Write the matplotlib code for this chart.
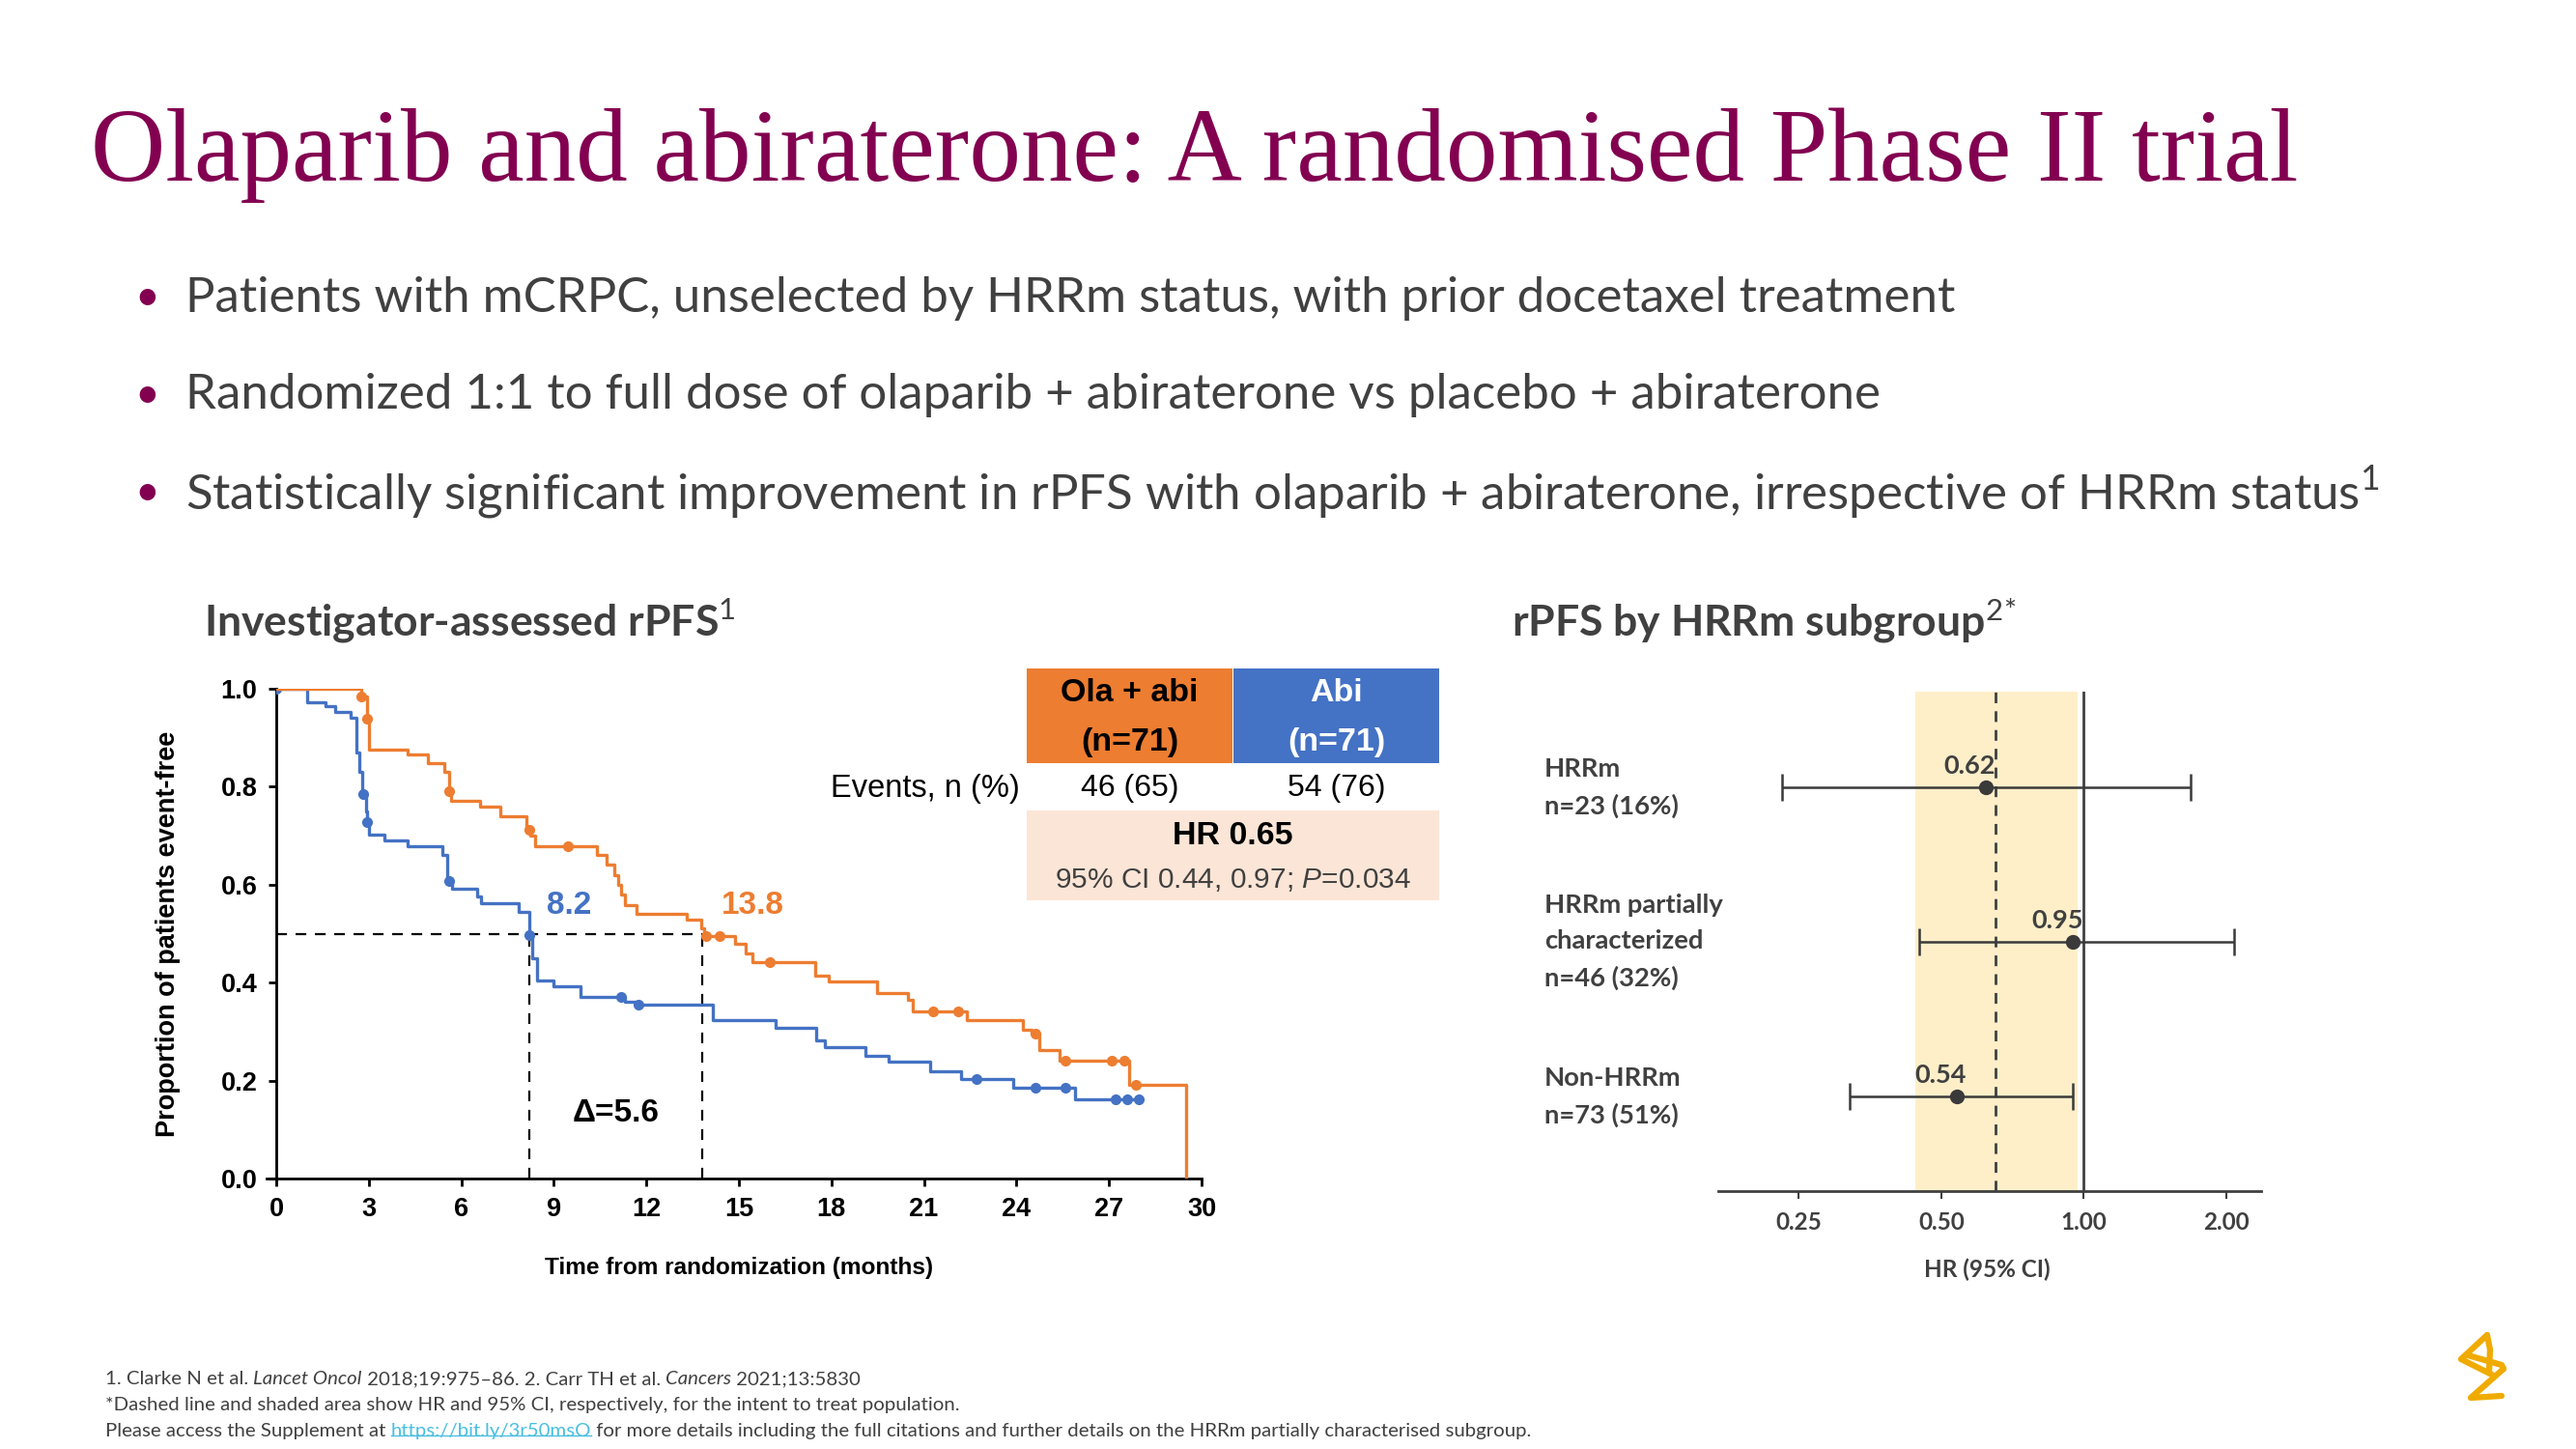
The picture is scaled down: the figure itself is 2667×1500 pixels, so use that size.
import matplotlib.pyplot as plt
from matplotlib.patches import Rectangle
from matplotlib.lines import Line2D
from matplotlib.ticker import NullLocator
from matplotlib.transforms import IdentityTransform
import numpy as np

W, H = 2667, 1500

plt.rcParams['mathtext.fontset'] = 'custom'
plt.rcParams['mathtext.rm'] = 'Lato'
plt.rcParams['mathtext.it'] = 'Liberation Sans:italic'
plt.rcParams['mathtext.bf'] = 'Lato:bold'

# Data
# =====
# Kaplan-Meier steps: time (months) -> proportion event-free after that time
ola_t = [0, 2.75, 2.95, 3.02, 4.25, 4.92, 5.45, 5.6, 5.66, 6.6, 7.28, 8.1,
         8.25, 8.4, 10.4, 10.7, 10.97, 11.08, 11.19, 11.3, 11.69, 13.32,
         13.77, 13.88, 14.89, 15.22, 15.45, 17.46, 17.9, 19.48, 20.48, 20.64,
         22.39, 24.22, 24.5, 24.74, 25.4, 27.65, 29.5]
ola_s = [1.0, 0.984, 0.939, 0.876, 0.866, 0.848, 0.83, 0.79, 0.771, 0.76,
         0.739, 0.712, 0.70, 0.678, 0.661, 0.642, 0.62, 0.60, 0.58, 0.559,
         0.541, 0.528, 0.511, 0.496, 0.48, 0.46, 0.442, 0.414, 0.402, 0.379,
         0.364, 0.342, 0.323, 0.304, 0.296, 0.263, 0.24, 0.192, 0.0]
ola_cens_t = [2.75, 2.95, 5.6, 8.19, 9.47, 13.95, 14.37, 16.0, 21.3, 22.1,
              24.62, 25.6, 27.1, 27.5, 27.87]
ola_cens_s = [0.984, 0.939, 0.79, 0.712, 0.678, 0.496, 0.496, 0.442, 0.342,
              0.342, 0.296, 0.24, 0.24, 0.24, 0.192]

abi_t = [0, 1.0, 1.6, 1.9, 2.4, 2.6, 2.7, 2.8, 2.9, 2.95, 3.0, 3.5, 4.25,
         5.4, 5.55, 5.7, 6.5, 6.65, 7.85, 8.2, 8.3, 8.45, 9.0, 9.85, 11.3,
         11.7, 14.15, 16.2, 17.5, 17.8, 19.1, 19.85, 21.2, 22.2, 23.9, 25.9,
         27.98]
abi_s = [1.0, 0.973, 0.964, 0.953, 0.94, 0.87, 0.83, 0.785, 0.75, 0.727,
         0.703, 0.69, 0.678, 0.66, 0.607, 0.591, 0.575, 0.562, 0.544, 0.497,
         0.45, 0.404, 0.392, 0.37, 0.36, 0.356, 0.323, 0.308, 0.282, 0.269,
         0.251, 0.238, 0.218, 0.203, 0.186, 0.162, 0.162]
abi_cens_t = [0, 2.82, 2.95, 5.62, 8.19, 11.19, 11.75, 22.7, 24.6, 25.6,
              27.2, 27.6, 27.98]
abi_cens_s = [1.0, 0.785, 0.727, 0.607, 0.497, 0.37, 0.356, 0.203, 0.186,
              0.186, 0.162, 0.162, 0.162]

median_abi = 8.2
median_ola = 13.8
km_xticks = list(range(0, 31, 3))
km_yticks = [0.0, 0.2, 0.4, 0.6, 0.8, 1.0]

arm_labels = ['Ola + abi\n(n=71)', 'Abi\n(n=71)']
arm_events = ['46 (65)', '54 (76)']
hr_label = 'HR 0.65'
ci_label = '95% CI 0.44, 0.97; $\\mathit{P}$=0.034'

subgroups = ['HRRm\nn=23 (16%)',
             'HRRm partially\ncharacterized\nn=46 (32%)',
             'Non-HRRm\nn=73 (51%)']
sub_hr = [0.62, 0.95, 0.54]
sub_lo = [0.23, 0.45, 0.32]
sub_hi = [1.68, 2.08, 0.95]
itt_hr, itt_lo, itt_hi = 0.65, 0.44, 0.97
forest_ticks = [0.25, 0.5, 1.0, 2.0]

bullets = ['Patients with mCRPC, unselected by HRRm status, with prior docetaxel treatment',
           'Randomized 1:1 to full dose of olaparib + abiraterone vs placebo + abiraterone',
           'Statistically significant improvement in rPFS with olaparib + abiraterone, '
           'irrespective of HRRm status$^{1}$']

# Styles
# =======
MULBERRY = '#830051'
GREY = '#404040'
ORANGE = '#ED7D31'
BLUE = '#4472C4'
NARROW = ['Liberation Sans Narrow', 'Liberation Sans']


def fx(x):
    return x / W


def fy(y):
    return 1 - y / H


fig = plt.figure(figsize=(W / 100, H / 100), dpi=100)

# overlay in pixel coordinates for slide text and table boxes
ov = fig.add_axes([0, 0, 1, 1], zorder=5)
ov.set_xlim(0, W)
ov.set_ylim(H, 0)
ov.axis('off')

# Title and bullets
# ==================
ov.text(94, 187, 'Olaparib and abiraterone: A randomised Phase II trial',
        family='Liberation Serif', fontsize=77, color=MULBERRY, va='baseline')
for i, b in enumerate(bullets):
    y = 309 + i * 100.5
    ov.text(152, y, '\u2022', fontsize=32, color=MULBERRY, va='center', ha='center',
            family='Lato')
    ov.text(192, y, b, fontsize=36.7, color=GREY, va='center', family='Lato')

ov.text(211, 643, 'Investigator-assessed rPFS$^{1}$', fontsize=32,
        fontweight='bold', color=GREY, va='center', family='Lato')
ov.text(1565, 643, 'rPFS by HRRm subgroup$^{2}$$^{*}$', fontsize=32,
        fontweight='bold', color=GREY, va='center', family='Lato')

# KM plot
# ========
ax = fig.add_axes([fx(286), fy(1220), (1244 - 286) / W, (1220 - 713) / H])
ax.step(abi_t, abi_s, where='post', color=BLUE, lw=2.4, zorder=3)
ax.step(ola_t, ola_s, where='post', color=ORANGE, lw=2.4, zorder=4)
ax.plot(abi_cens_t, abi_cens_s, 'o', color=BLUE, ms=7, zorder=3)
ax.plot(ola_cens_t, ola_cens_s, 'o', color=ORANGE, ms=7, zorder=4)

dash = dict(color='black', lw=1.6, ls=(0, (5, 4)), zorder=2)
ax.plot([0, median_ola], [0.5, 0.5], **dash)
ax.plot([median_abi, median_abi], [0, 0.5], **dash)
ax.plot([median_ola, median_ola], [0, 0.5], **dash)

ax.text(median_abi + 1.3, 0.557, f'{median_abi}', color=BLUE, fontsize=24,
        fontweight='bold', family=NARROW, ha='center', va='center')
ax.text(median_ola + 1.65, 0.557, f'{median_ola}', color=ORANGE, fontsize=24,
        fontweight='bold', family=NARROW, ha='center', va='center')
ax.text((median_abi + median_ola) / 2, 0.133,
        f'\u0394={median_ola - median_abi:.1f}', fontsize=24, fontweight='bold',
        family=NARROW, ha='center', va='center')

ax.set_xlim(0, 30)
ax.set_ylim(0, 1.0)
ax.set_xticks(km_xticks)
ax.set_yticks(km_yticks)
ax.set_yticklabels([f'{v:.1f}' for v in km_yticks])
for s in ['top', 'right']:
    ax.spines[s].set_visible(False)
for s in ['left', 'bottom']:
    ax.spines[s].set_linewidth(2)
ax.spines['bottom'].set_bounds(-0.3, 30)
ax.tick_params(direction='out', length=6, width=2, labelsize=19.5, pad=8)
for lab in ax.get_xticklabels() + ax.get_yticklabels():
    lab.set_fontweight('bold')
    lab.set_family(NARROW)
ax.set_xlabel('Time from randomization (months)', fontsize=17.6,
              fontweight='bold', family=NARROW)
ax.set_ylabel('Proportion of patients event-free', fontsize=19.5,
              fontweight='bold', family='Liberation Sans')
ax.xaxis.set_label_coords(0.5, -0.16)
ax.yaxis.set_label_coords(-0.103, 0.5)

# Events table
# =============
ov.add_patch(Rectangle((1063, 692), 213, 98, facecolor=ORANGE, edgecolor='none'))
ov.add_patch(Rectangle((1277, 692), 213, 98, facecolor=BLUE, edgecolor='none'))
ov.add_patch(Rectangle((1063, 839), 427, 93, facecolor='#FBE5D6', edgecolor='none'))
for cx, lab, ev, col in zip([1169.5, 1383.5], arm_labels, arm_events, ['black', 'white']):
    ov.text(cx, 743, lab, ha='center', va='center', fontsize=24.5,
            fontweight='bold', color=col, family='Liberation Sans',
            linespacing=1.85)
    ov.text(cx, 816, ev, ha='center', va='center', fontsize=23,
            family='Liberation Sans', color='black')
ov.text(1056, 816, 'Events, n (%)', ha='right', va='center', fontsize=23.5,
        family='Liberation Sans', color='black')
ov.text(1276, 865, hr_label, ha='center', va='center', fontsize=24.5,
        fontweight='bold', family='Liberation Sans', color='black')
ov.text(1276, 911, ci_label, ha='center', va='center', fontsize=21.5,
        family='Liberation Sans', color=GREY)

# Forest plot
# ============
fa = fig.add_axes([fx(1779), fy(1233), (2341 - 1779) / W, (1233 - 716) / H])
fa.set_xscale('log', base=2)
fa.set_xlim(0.169, 2.37)
rows = np.arange(len(subgroups))
fa.set_ylim(len(subgroups) - 0.39, -0.62)
fa.axvspan(itt_lo, itt_hi, color='#FFEFC9', lw=0, zorder=0)
fa.axvline(itt_hr, color=GREY, lw=2, ls=(0, (4, 3)), zorder=1)
fa.axvline(1.0, color=GREY, lw=2, zorder=1)
xerr = [np.array(sub_hr) - np.array(sub_lo), np.array(sub_hi) - np.array(sub_hr)]
fa.errorbar(sub_hr, rows, xerr=xerr, fmt='o', color='#3A3A3A', ms=10,
            elinewidth=1.8, capsize=10, capthick=1.8, zorder=3)
for r, hr, lab in zip(rows, sub_hr, subgroups):
    fa.annotate(f'{hr:.2f}', (hr, r), xytext=(-12, 16), textcoords='offset points',
                ha='center', va='center', fontsize=19.5, fontweight='bold',
                color=GREY, family='Lato')
    fa.text(-0.32, r, lab, transform=fa.get_yaxis_transform(), ha='left',
            va='center', fontsize=19.7, fontweight='bold', color=GREY,
            family='Lato', linespacing=1.65)
for s in ['top', 'right', 'left']:
    fa.spines[s].set_visible(False)
fa.spines['bottom'].set_linewidth(2)
fa.spines['bottom'].set_color(GREY)
fa.set_yticks([])
fa.set_xticks(forest_ticks)
fa.set_xticklabels([f'{v:.2f}' for v in forest_ticks])
fa.xaxis.set_minor_locator(NullLocator())
fa.tick_params(axis='x', direction='out', length=6, width=1.5, color=GREY,
               labelsize=17.5, labelcolor=GREY, pad=9)
for lab in fa.get_xticklabels():
    lab.set_fontweight('bold')
    lab.set_family('Lato')
fa.set_xlabel('HR (95% CI)', fontsize=17.5, fontweight='bold', color=GREY,
              family='Lato')
fa.xaxis.set_label_coords(0.496, -0.134)

# Footnotes
# ==========
foot = dict(fontsize=14.7, color=GREY, family='Lato', va='bottom', ha='left')


def text_run(x, y, pieces):
    """
        Writes pieces of text one after another on one line.
    """
    t = ov.text(x, y, pieces[0][0], **{**foot, **pieces[0][1]})
    out = [t]
    for s, style in pieces[1:]:
        t = ov.annotate(s, xy=(1, 0), xycoords=t, **{**foot, **style})
        out.append(t)
    return out


text_run(109, 1436, [('1. Clarke N et al. ', {}), ('Lancet Oncol', {'style': 'italic'}),
                     (' 2018;19:975\u201386. 2. Carr TH et al. ', {}),
                     ('Cancers', {'style': 'italic'}), (' 2021;13:5830', {})])
text_run(109, 1463, [('*Dashed line and shaded area show HR and 95% CI, respectively, '
                      'for the intent to treat population.', {})])
link = text_run(109, 1490, [('Please access the Supplement at ', {}),
                            ('https://bit.ly/3r50msO', {'color': '#4BBFE0'}),
                            (' for more details including the full citations and further '
                             'details on the HRRm partially characterised subgroup.', {})])[1]

# Logo (ribbon strokes)
# ======================
logo = [[(2575, 1382), (2548, 1407), (2580, 1423)],
        [(2575, 1382), (2578, 1397), (2577, 1421)],
        [(2555, 1403), (2590, 1413), (2592, 1417)],
        [(2592, 1417), (2558, 1447), (2590, 1445)]]
for pts in logo:
    xs, ys = zip(*pts)
    ov.plot(xs, ys, color='#F0AB00', lw=4.5, solid_capstyle='round',
            solid_joinstyle='round')

# underline for the link
fig.canvas.draw()
bb = link.get_window_extent()
fig.add_artist(Line2D([bb.x0, bb.x1], [bb.y0 + 0.22 * bb.height] * 2,
                      transform=IdentityTransform(), color='#4BBFE0', lw=1))

fig.savefig('out.png', dpi=100)
